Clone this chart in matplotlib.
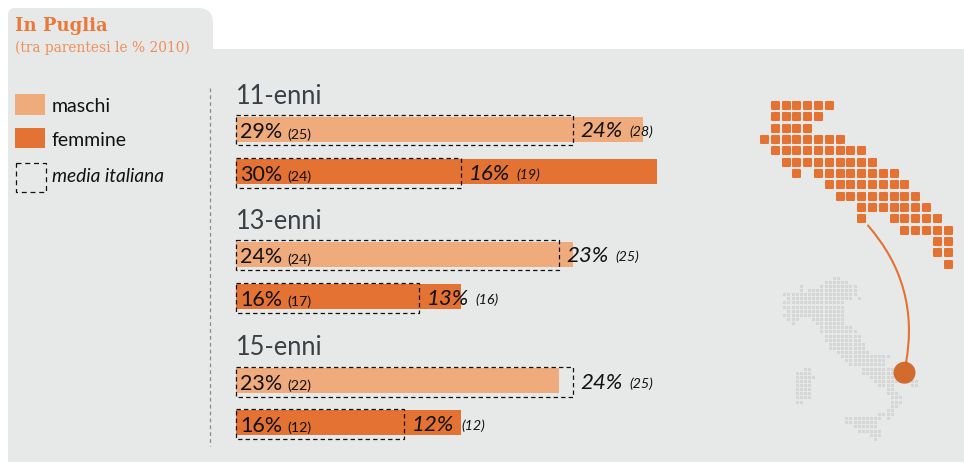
import numpy as np
import matplotlib
matplotlib.use("Agg")
import matplotlib.pyplot as plt
from matplotlib.patches import FancyBboxPatch, Rectangle, Circle, FancyArrowPatch

# ---------------------------------------------------------
# DATA
# ---------------------------------------------------------
age_groups = ["11-enni", "13-enni", "15-enni"]

maschi = [29, 24, 23]
maschi_2010 = [25, 24, 22]
maschi_media = [24, 23, 24]
maschi_media_2010 = [28, 25, 25]

femmine = [30, 16, 16]
femmine_2010 = [24, 17, 12]
femmine_media = [16, 13, 12]
femmine_media_2010 = [19, 16, 12]

# dot maps: one list of (first col, last col) spans per row
puglia_rows = [
    [(1, 6)], [(1, 5)], [(1, 4)], [(0, 7)], [(1, 9)], [(2, 10)],
    [(3, 3), (5, 12)], [(6, 13)], [(7, 14)], [(9, 15)],
    [(9, 9), (12, 16)], [(13, 17)], [(16, 17)], [(16, 17)], [(17, 17)],
]
italy_rows = [
    [(12, 13)], [(10, 15)], [(4, 4), (9, 17)], [(4, 4), (6, 17)], [(0, 17)],
    [(1, 16), (18, 18)], [(0, 14)], [(0, 14)], [(1, 14)], [(0, 14)],
    [(1, 3), (7, 14)], [(2, 2), (8, 14)], [(9, 16)], [(9, 17)], [(10, 18)],
    [(10, 18)], [(11, 19)], [(11, 19)], [(13, 20)], [(14, 25)], [(15, 24)],
    [(16, 24)], [(5, 6), (19, 26)], [(3, 6), (19, 29)], [(3, 7), (21, 30)],
    [(3, 6), (22, 32)], [(3, 6), (23, 26), (31, 32)], [(3, 6), (25, 26)],
    [(3, 6), (25, 27)], [(3, 6), (26, 28)], [(3, 4), (26, 28)], [(26, 27)],
    [(25, 26)], [(23, 26)], [(15, 23), (25, 25)], [(15, 22)], [(17, 22)],
    [(18, 23)], [(21, 23)], [(22, 22)],
]

# ---------------------------------------------------------
# STYLE
# ---------------------------------------------------------
W, H = 964, 464
GREY = "#E7E9E8"
LIGHT = "#F0AB7C"
DARK = "#E37233"
INK = "#111111"
SANS = "Lato"
SLAB = "DejaVu Serif"

plt.rcParams["font.family"] = SANS

fig = plt.figure(figsize=(W / 100, H / 100), dpi=100, facecolor="white")

# pixel canvas for panel, legend and maps
bg = fig.add_axes([0, 0, 1, 1])
bg.set_xlim(0, W)
bg.set_ylim(H, 0)
bg.axis("off")


def spans_to_xy(rows):
    xs, ys = [], []
    for r, spans in enumerate(rows):
        for a, b in spans:
            for c in range(a, b + 1):
                xs.append(c)
                ys.append(r)
    return np.array(xs), np.array(ys)


# panel with tab
bg.add_patch(Rectangle((8, 50), W - 8, 413, fc=GREY, ec="none"))
bg.add_patch(FancyBboxPatch((60, 9), 153, 60, boxstyle="round,pad=0,rounding_size=15",
                            fc=GREY, ec="none"))
bg.add_patch(FancyBboxPatch((8, 9), 100, 60, boxstyle="round,pad=0,rounding_size=7",
                            fc=GREY, ec="none"))
bg.add_patch(Rectangle((8, 30), 205, 40, fc=GREY, ec="none"))

bg.text(15, 26, "In Puglia", color="#E8793A", fontsize=13, family=SLAB,
        fontweight="bold", va="center")
bg.text(15, 47.5, "(tra parentesi le % 2010)", color="#EC9159", fontsize=9.9,
        family=SLAB, va="center")

# legend
bg.add_patch(Rectangle((15, 95), 30, 20.5, fc=LIGHT, ec="none"))
bg.add_patch(Rectangle((15, 128.5), 30, 20.5, fc=DARK, ec="none"))
bg.add_patch(Rectangle((15.5, 163.5), 30, 29.5, fc="none", ec=INK, lw=0.9, ls=(0, (4, 3))))
bg.text(52, 106, "maschi", fontsize=14, color=INK, va="center")
bg.text(52, 141, "femmine", fontsize=14, color=INK, va="center")
bg.text(52, 177, "media italiana", fontsize=13.8, color=INK, va="center", style="italic")

# separator
bg.plot([209.5, 209.5], [89, 447], color="#8A8A8A", lw=0.9, ls=(0, (3, 2.5)))

# ---------------------------------------------------------
# BARS
# ---------------------------------------------------------
px_per_pct = 14.04
ax = fig.add_axes([236 / W, 0, (W - 236) / W, 1])
ax.set_xlim(0, (W - 236) / px_per_pct)
ax.set_ylim(H, 0)
ax.axis("off")
ax.patch.set_alpha(0)

y_light = [130, 255.2, 381.5]
y_dark = [172.5, 297.5, 423.5]
bar_h = 25
head_y = [96.5, 221.5, 347.5]


def bar_row(y, value, prev, media, media_prev, color):
    ax.barh(y, value, height=bar_h, color=color, edgecolor="none")
    ax.add_patch(Rectangle((0, y - 14), media, 30, fc="none", ec=INK, lw=0.9,
                           ls=(0, (3.5, 2.5)), clip_on=False))
    t = ax.text(0.28, y + 2.2, f"{value}%", fontsize=15.5, color=INK, va="center")
    ax.annotate(f"({prev})", xy=(1, 0.5), xycoords=t, xytext=(4, -1.5),
                textcoords="offset points", fontsize=10.3, color=INK, va="center")
    t2 = ax.text(media + 0.55, y + 1.2, f"{media}%", fontsize=16, color=INK, va="center",
                 style="italic")
    ax.annotate(f"({media_prev})", xy=(1, 0.5), xycoords=t2, xytext=(5, -0.5),
                textcoords="offset points", fontsize=10.3, color=INK, va="center", style="italic")


for i, name in enumerate(age_groups):
    ax.text(0, head_y[i], name, fontsize=18.4, color="#3A4045", va="center")
    bar_row(y_light[i], maschi[i], maschi_2010[i], maschi_media[i], maschi_media_2010[i], LIGHT)
    bar_row(y_dark[i], femmine[i], femmine_2010[i], femmine_media[i], femmine_media_2010[i], DARK)

# ---------------------------------------------------------
# MAPS
# ---------------------------------------------------------
ix, iy = spans_to_xy(italy_rows)
italy_dots = bg.scatter(784.3 + 4.13 * ix, 278.7 + 4.13 * iy, s=4.8, marker="s", color="#D6D6D6",
                        linewidths=0)
italy_dots.set_snap(False)

px, py = spans_to_xy(puglia_rows)
puglia_dots = bg.scatter(764 + 10.8 * px, 106 + 11.33 * py, s=26, marker="s", color=DARK,
                         edgecolors=DARK, linewidths=1.4, joinstyle="round")
puglia_dots.set_snap(False)

bg.add_patch(FancyArrowPatch((868, 226.5), (906, 364), connectionstyle="arc3,rad=-0.24",
                             arrowstyle="-", color=DARK, lw=1.5, shrinkA=0, shrinkB=0))
bg.add_patch(Circle((904.5, 373.7), 11, fc="#D2601F", ec="none", alpha=0.92, zorder=4))

fig.savefig("out.png", dpi=100)
